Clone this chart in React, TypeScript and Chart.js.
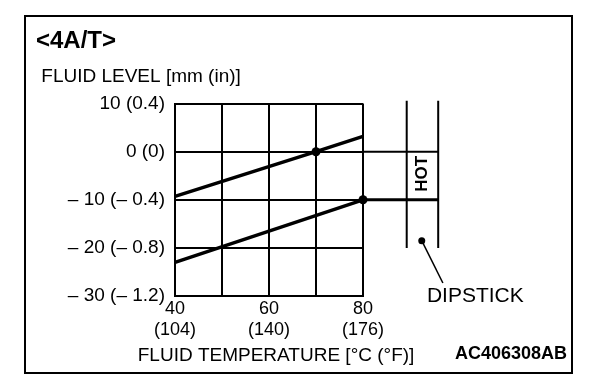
import React, { useEffect, useRef } from "react";
import { Chart, registerables } from "chart.js";

Chart.register(...registerables);

// ---- data ----
const titleText = "<4A/T>";
const yAxisCaption = " FLUID LEVEL [mm (in)]";
const xAxisCaption = "FLUID TEMPERATURE [°C (°F)]";
const figureCode = "AC406308AB";
const hotLabel = "HOT";
const dipstickLabel = "DIPSTICK";

const yTickValues = [10, 0, -10, -20, -30];
const yTickLabels = ["10 (0.4)", "0 (0)", "– 10 (– 0.4)", "– 20 (– 0.8)", "– 30 (– 1.2)"];
const xTickValues = [40, 60, 80];
const xTickCelsius = ["40", "60", "80"];
const xTickFahrenheit = ["(104)", "(140)", "(176)"];

const upperTemp = [40, 70, 80];
const upperLevel = [-9.3, 0, 3.2];
const lowerTemp = [40, 80];
const lowerLevel = [-23, -10];

// dipstick gauge drawn beside the plot (in chart units)
const gaugeLeftX = 89.3;
const gaugeRightX = 96;
const gaugeTop = 10.6;
const gaugeBottom = -20;
const hotUpper = 0;
const hotLower = -10;
const dipDot = [92.5, -18.5];
const leaderEnd = [97, -27.3];
const hotPos = [92.6, -4.6];
const dipstickTextPos = [93.6, -30];
const xCaptionPos = [61.5, -42.5];

const pts = (xs: number[], ys: number[]) => xs.map((x, i) => ({ x, y: ys[i] }));

const FONT = "'Liberation Sans', Arial, Helvetica, sans-serif";

const overlay = {
  id: "overlay",
  beforeDraw(chart: any) {
    const ctx = chart.ctx;
    ctx.save();
    ctx.fillStyle = "#ffffff";
    ctx.fillRect(0, 0, chart.width, chart.height);
    ctx.restore();
  },
  afterDraw(chart: any) {
    const ctx = chart.ctx;
    const xs = chart.scales.x;
    const ys = chart.scales.y;
    ctx.save();
    // frame
    ctx.strokeStyle = "#000";
    ctx.lineWidth = 2;
    ctx.strokeRect(25, 16, 547, 357);
    ctx.fillStyle = "#000";
    // dipstick dot
    ctx.beginPath();
    ctx.arc(xs.getPixelForValue(dipDot[0]), ys.getPixelForValue(dipDot[1]), 3.5, 0, Math.PI * 2);
    ctx.fill();
    // HOT
    ctx.save();
    ctx.translate(xs.getPixelForValue(hotPos[0]), ys.getPixelForValue(hotPos[1]));
    ctx.rotate(-Math.PI / 2);
    ctx.font = `bold 17px ${FONT}`;
    ctx.textAlign = "center";
    ctx.textBaseline = "middle";
    ctx.fillText(hotLabel, 0, 0);
    ctx.restore();
    // DIPSTICK
    ctx.font = `21px ${FONT}`;
    ctx.textAlign = "left";
    ctx.textBaseline = "middle";
    ctx.fillText(
      dipstickLabel,
      xs.getPixelForValue(dipstickTextPos[0]),
      ys.getPixelForValue(dipstickTextPos[1])
    );
    // x axis caption
    ctx.font = `19px ${FONT}`;
    ctx.textAlign = "center";
    ctx.textBaseline = "middle";
    ctx.fillText(
      xAxisCaption,
      xs.getPixelForValue(xCaptionPos[0]),
      ys.getPixelForValue(xCaptionPos[1])
    );
    // figure code
    ctx.font = `bold 18px ${FONT}`;
    ctx.textAlign = "right";
    ctx.textBaseline = "alphabetic";
    ctx.fillText(figureCode, 567, 359);
    ctx.restore();
  },
};

export default function App() {
  const ref = useRef<HTMLCanvasElement | null>(null);
  useEffect(() => {
    if (!ref.current) return;
    const black = "#000000";
    const lineDs = (data: any[], width: number, radius: number[] | number = 0) => ({
      data,
      showLine: true,
      borderColor: black,
      backgroundColor: black,
      borderWidth: width,
      pointRadius: radius,
      pointBorderWidth: 0,
      pointBackgroundColor: black,
      clip: false,
      tension: 0,
    });
    const chart = new Chart(ref.current, {
      type: "scatter",
      data: {
        datasets: [
          lineDs(pts(upperTemp, upperLevel), 3.5, [0, 4.5, 0]),
          lineDs(pts(lowerTemp, lowerLevel), 3.5, [0, 4.5]),
          lineDs(pts([80, gaugeRightX], [hotUpper, hotUpper]), 2),
          lineDs(pts([80, gaugeRightX], [hotLower, hotLower]), 3),
          lineDs(pts([gaugeLeftX, gaugeLeftX], [gaugeTop, gaugeBottom]), 2),
          lineDs(pts([gaugeRightX, gaugeRightX], [gaugeTop, gaugeBottom]), 2),
          lineDs(pts([dipDot[0], leaderEnd[0]], [dipDot[1], leaderEnd[1]]), 1.5),
        ] as any,
      },
      options: {
        animation: false,
        responsive: false,
        events: [],
        layout: { padding: { left: 36, right: 245, top: 0, bottom: 0 } },
        font: { family: FONT },
        plugins: {
          legend: { display: false },
          tooltip: { enabled: false },
          title: {
            display: true,
            text: titleText,
            align: "start",
            color: black,
            font: { family: FONT, size: 24, weight: "bold" },
            padding: { top: 27, bottom: 0 },
          },
          subtitle: {
            display: true,
            text: yAxisCaption,
            align: "start",
            color: black,
            font: { family: FONT, size: 19 },
            padding: { top: 10, bottom: 15 },
          },
        },
        scales: {
          x: {
            type: "linear",
            min: 40,
            max: 80,
            afterFit: (s: any) => {
              s.height = 86;
            },
            afterBuildTicks: (s: any) => {
              s.ticks = [40, 50, 60, 70, 80].map((v) => ({ value: v }));
            },
            grid: { color: black, lineWidth: 2, drawTicks: false },
            border: { display: true, color: black, width: 2 },
            ticks: {
              autoSkip: false,
              maxRotation: 0,
              padding: 2,
              color: black,
              font: { family: FONT, size: 18 },
              callback: (v: any) => {
                const i = xTickValues.indexOf(Number(v));
                return i >= 0 ? [xTickCelsius[i], xTickFahrenheit[i]] : "";
              },
            },
          },
          y: {
            type: "linear",
            min: -30,
            max: 10,
            afterFit: (s: any) => {
              s.width = 139;
            },
            afterBuildTicks: (s: any) => {
              s.ticks = [...yTickValues].reverse().map((v) => ({ value: v }));
            },
            grid: { color: black, lineWidth: 2, drawTicks: false },
            border: { display: true, color: black, width: 2 },
            ticks: {
              autoSkip: false,
              padding: 10,
              color: black,
              font: { family: FONT, size: 19 },
              callback: (v: any) => {
                const i = yTickValues.indexOf(Number(v));
                return i >= 0 ? yTickLabels[i] : "";
              },
            },
          },
        },
      } as any,
      plugins: [overlay],
    });
    return () => chart.destroy();
  }, []);
  return (
    <div style={{ position: "absolute", left: 0, top: 0, width: 608, height: 382, background: "#fff" }}>
      <canvas ref={ref} width={608} height={382} style={{ display: "block" }} />
    </div>
  );
}
